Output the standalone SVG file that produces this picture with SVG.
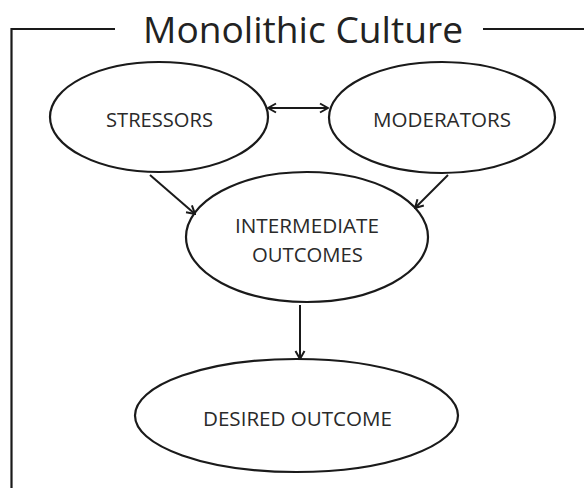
<svg xmlns="http://www.w3.org/2000/svg" width="584" height="488" viewBox="0 0 584 488">
<style>
.frame{fill:none;stroke:#1a1a1a;stroke-width:2.2}
.node ellipse{fill:#fff;stroke:#1a1a1a;stroke-width:2.2}
.lbl{font-family:"Open Sans","Liberation Sans",sans-serif;font-size:20px;fill:#2a2a2a}
.title{font-family:"Open Sans","Liberation Sans",sans-serif;font-size:36px;fill:#222}
.edge{fill:none;stroke:#1a1a1a;stroke-width:2}
</style>
<defs>
<marker id="ah" viewBox="0 0 12 12" refX="11" refY="6" markerWidth="12" markerHeight="12" markerUnits="userSpaceOnUse" orient="auto-start-reverse">
<polyline points="3,1.5 11,6 3,10.5" fill="none" stroke="#1a1a1a" stroke-width="2"/>
</marker>
</defs>
<rect width="584" height="488" fill="#fff"/>
<g id="frame">
<polyline class="frame" points="115,29 11.5,29 11.5,488"/>
<line class="frame" x1="483" y1="29" x2="584" y2="29"/>
<text class="title" x="143" y="43" textLength="320" lengthAdjust="spacingAndGlyphs">Monolithic Culture</text>
</g>
<g id="stressors" class="node">
<ellipse cx="159" cy="117" rx="109" ry="55"/>
<text class="lbl" x="106" y="127" textLength="107" lengthAdjust="spacingAndGlyphs">STRESSORS</text>
</g>
<g id="moderators" class="node">
<ellipse cx="442" cy="117.5" rx="113" ry="55.5"/>
<text class="lbl" x="373" y="127" textLength="138" lengthAdjust="spacingAndGlyphs">MODERATORS</text>
</g>
<g id="intermediate" class="node">
<ellipse cx="307" cy="237" rx="121" ry="65"/>
<text class="lbl" x="235" y="233" textLength="144" lengthAdjust="spacingAndGlyphs">INTERMEDIATE</text>
<text class="lbl" x="252" y="262" textLength="111" lengthAdjust="spacingAndGlyphs">OUTCOMES</text>
</g>
<g id="desired" class="node">
<ellipse cx="296.5" cy="415.5" rx="161.5" ry="56.5"/>
<text class="lbl" x="203" y="426" textLength="189" lengthAdjust="spacingAndGlyphs">DESIRED OUTCOME</text>
</g>
<g id="connectors">
<line class="edge" x1="268" y1="108" x2="328" y2="108" marker-start="url(#ah)" marker-end="url(#ah)"/>
<line class="edge" x1="150" y1="175" x2="195" y2="214" marker-end="url(#ah)"/>
<line class="edge" x1="448" y1="175" x2="415" y2="208" marker-end="url(#ah)"/>
<line class="edge" x1="300" y1="305" x2="300" y2="359" marker-end="url(#ah)"/>
</g>
</svg>
